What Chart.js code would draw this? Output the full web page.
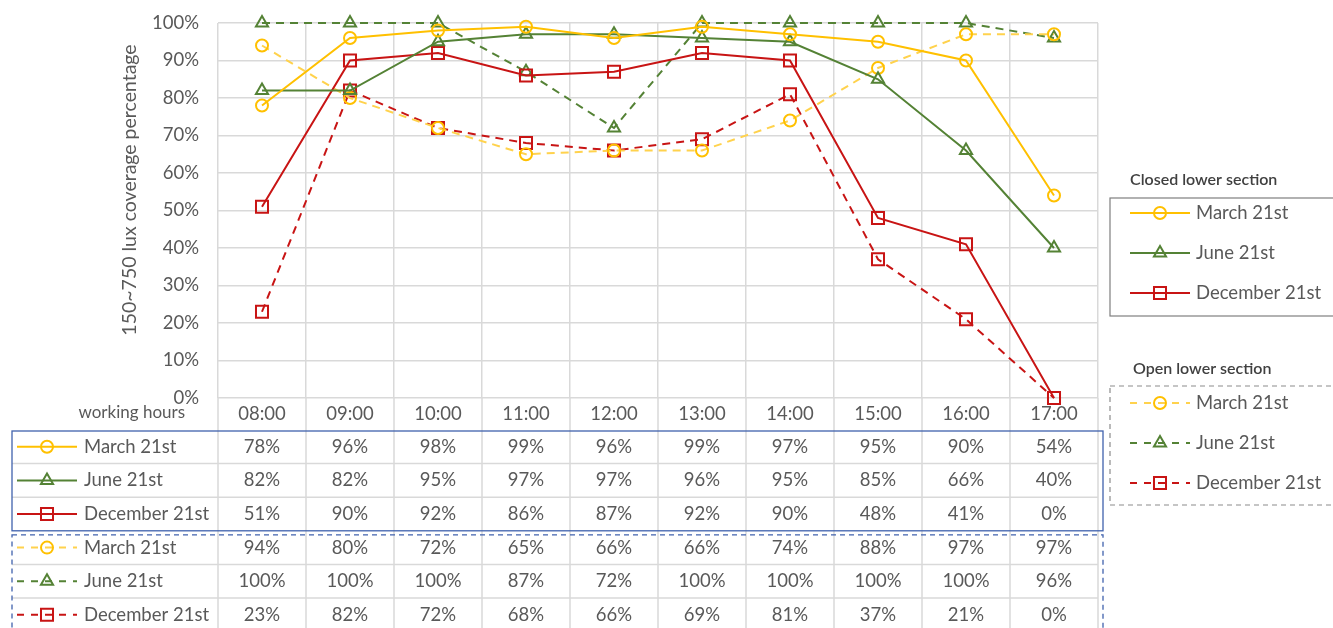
<!DOCTYPE html>
<html>
<head>
<meta charset="utf-8">
<title>150~750 lux coverage percentage</title>
<script src="https://cdn.jsdelivr.net/npm/chart.js@4.4.1/dist/chart.umd.min.js"></script>
<style>
  html, body { margin: 0; padding: 0; background: #fff; }
  #wrap { position: relative; width: 1333px; height: 628px; }
</style>
</head>
<body>
<div id="wrap"><canvas id="chart" width="1333" height="628"></canvas></div>
<script>
// ===== data =====
const HOURS = ["08:00", "09:00", "10:00", "11:00", "12:00", "13:00", "14:00", "15:00", "16:00", "17:00"];
const SERIES_NAMES = ["March 21st", "June 21st", "December 21st"];
const GROUP_TITLES = ["Closed lower section", "Open lower section"];
const AXIS_TITLE = "150~750 lux coverage percentage";
const ROW_HEADER = "working hours";

const CLOSED_MARCH = [78, 96, 98, 99, 96, 99, 97, 95, 90, 54];
const CLOSED_JUNE  = [82, 82, 95, 97, 97, 96, 95, 85, 66, 40];
const CLOSED_DEC   = [51, 90, 92, 86, 87, 92, 90, 48, 41, 0];
const OPEN_MARCH   = [94, 80, 72, 65, 66, 66, 74, 88, 97, 97];
const OPEN_JUNE    = [100, 100, 100, 87, 72, 100, 100, 100, 100, 96];
const OPEN_DEC     = [23, 82, 72, 68, 66, 69, 81, 37, 21, 0];

// ===== styles =====
const FONT = "Lato, 'Open Sans', sans-serif";
const FS = 18.5;
const TEXT = "#595959";
const GRID = "#d9d9d9";
const BLUE = "#4062ad";
const YELLOW = "#ffc000";
const YELLOW_LIGHT = "#ffd24d";
const GREEN = "#548235";
const RED = "#c81414";
const DASH = [8, 6];

function series(label, data, lineColor, pointColor, style, radius, dashed) {
  return {
    label, data,
    borderColor: lineColor,
    borderWidth: 2,
    borderDash: dashed ? DASH : [],
    pointStyle: style,
    pointRadius: radius,
    pointHoverRadius: radius,
    pointBorderColor: pointColor,
    pointBackgroundColor: "rgba(0,0,0,0)",
    pointBorderWidth: 2,
    tension: 0,
    clip: false,
    dashed,
  };
}

const datasets = [
  series(SERIES_NAMES[0], CLOSED_MARCH, YELLOW, YELLOW, "circle", 6, false),
  series(SERIES_NAMES[1], CLOSED_JUNE, GREEN, GREEN, "triangle", 7, false),
  series(SERIES_NAMES[2], CLOSED_DEC, RED, RED, "rect", 8.5, false),
  series(SERIES_NAMES[0], OPEN_MARCH, YELLOW_LIGHT, YELLOW, "circle", 6, true),
  series(SERIES_NAMES[1], OPEN_JUNE, GREEN, GREEN, "triangle", 7, true),
  series(SERIES_NAMES[2], OPEN_DEC, RED, RED, "rect", 8.5, true),
];

// ===== drawing helpers =====
function drawMarker(ctx, ds, x, y) {
  const r = ds.pointRadius;
  ctx.save();
  ctx.setLineDash([]);
  ctx.strokeStyle = ds.pointBorderColor;
  ctx.lineWidth = 2;
  ctx.beginPath();
  if (ds.pointStyle === "circle") {
    ctx.arc(x, y, r, 0, Math.PI * 2);
  } else if (ds.pointStyle === "triangle") {
    let a = 0;
    ctx.moveTo(x + Math.sin(a) * r, y - Math.cos(a) * r);
    a += Math.PI * 2 / 3;
    ctx.lineTo(x + Math.sin(a) * r, y - Math.cos(a) * r);
    a += Math.PI * 2 / 3;
    ctx.lineTo(x + Math.sin(a) * r, y - Math.cos(a) * r);
    ctx.closePath();
  } else {
    const s = r * Math.SQRT1_2;
    ctx.rect(x - s, y - s, 2 * s, 2 * s);
  }
  ctx.stroke();
  ctx.restore();
}

function drawSample(ctx, ds, x1, x2, y) {
  ctx.save();
  ctx.strokeStyle = ds.borderColor;
  ctx.lineWidth = 2;
  ctx.setLineDash(ds.dashed ? [7, 7] : []);
  ctx.beginPath();
  ctx.moveTo(x1, y);
  ctx.lineTo(x2, y);
  ctx.stroke();
  ctx.restore();
  drawMarker(ctx, ds, (x1 + x2) / 2, y);
}

// ===== y axis title (placed like the original, a bit above centre) =====
const axisTitlePlugin = {
  id: "axisTitle",
  afterDraw(chart) {
    const { ctx } = chart;
    ctx.save();
    ctx.translate(130, 190);
    ctx.rotate(-Math.PI / 2);
    ctx.fillStyle = TEXT;
    ctx.font = "19.5px " + FONT;
    ctx.textAlign = "center";
    ctx.textBaseline = "middle";
    ctx.fillText(AXIS_TITLE, 0, 0);
    ctx.restore();
  },
};

// ===== data table under the plot =====
const tablePlugin = {
  id: "dataTable",
  afterDraw(chart) {
    const { ctx, chartArea } = chart;
    const x = chart.scales.x;
    const half = (x.getPixelForValue(1) - x.getPixelForValue(0)) / 2;
    const rowTop = chartArea.bottom + 32;
    const rowH = 33.6;
    const left = 12;
    const right = chartArea.right + 5;

    ctx.save();
    // column lines down through the table
    ctx.strokeStyle = GRID;
    ctx.lineWidth = 1.5;
    ctx.beginPath();
    HOURS.forEach((h, i) => {
      const px = x.getPixelForValue(i) - half;
      ctx.moveTo(px, chartArea.bottom);
      ctx.lineTo(px, chart.height);
    });
    ctx.moveTo(chartArea.right, chartArea.bottom);
    ctx.lineTo(chartArea.right, chart.height);
    // row separators
    [1, 2, 4, 5].forEach((k) => {
      ctx.moveTo(left, rowTop + k * rowH);
      ctx.lineTo(chartArea.right, rowTop + k * rowH);
    });
    ctx.stroke();

    // header cell
    ctx.fillStyle = TEXT;
    ctx.font = "17px " + FONT;
    ctx.textAlign = "right";
    ctx.textBaseline = "middle";
    ctx.fillText(ROW_HEADER, 185, chartArea.bottom + 15);

    // rows
    chart.data.datasets.forEach((ds, r) => {
      const cy = rowTop + r * rowH + rowH / 2;
      drawSample(ctx, ds, 17, 77, cy);
      ctx.fillStyle = TEXT;
      ctx.font = FS + "px " + FONT;
      ctx.textAlign = "left";
      ctx.textBaseline = "middle";
      ctx.fillText(ds.label, 84, cy);
      ctx.textAlign = "center";
      ds.data.forEach((v, i) => ctx.fillText(v + "%", x.getPixelForValue(i), cy));
    });

    // frames
    ctx.strokeStyle = BLUE;
    ctx.lineWidth = 1.3;
    ctx.strokeRect(left, rowTop + 1, right - left, 3 * rowH - 1);
    ctx.setLineDash([5, 4]);
    ctx.strokeRect(left, rowTop + 3 * rowH + 4, right - left, 3 * rowH + 20);
    ctx.restore();
  },
};

// ===== two legends on the right =====
const legendPlugin = {
  id: "groupLegends",
  afterDraw(chart) {
    const { ctx } = chart;
    const sets = chart.data.datasets;
    const groups = [
      { title: GROUP_TITLES[0], tx: 1130, ty: 180, box: [1110, 198, 240, 118], dashed: false, items: sets.slice(0, 3), y0: 213 },
      { title: GROUP_TITLES[1], tx: 1133, ty: 369, box: [1110, 386, 240, 119], dashed: true, items: sets.slice(3, 6), y0: 403 },
    ];
    ctx.save();
    groups.forEach((g) => {
      ctx.fillStyle = "#404040";
      ctx.font = "600 16px " + FONT;
      ctx.textAlign = "left";
      ctx.textBaseline = "middle";
      ctx.fillText(g.title, g.tx, g.ty);

      ctx.strokeStyle = g.dashed ? "#8c8c8c" : "#7f7f7f";
      ctx.lineWidth = 1.2;
      ctx.setLineDash(g.dashed ? [5, 4] : []);
      ctx.strokeRect(...g.box);
      ctx.setLineDash([]);

      g.items.forEach((ds, i) => {
        const cy = g.y0 + i * 40;
        drawSample(ctx, ds, 1130, 1190, cy);
        ctx.fillStyle = TEXT;
        ctx.font = FS + "px " + FONT;
        ctx.textAlign = "left";
        ctx.textBaseline = "middle";
        ctx.fillText(ds.label, 1196, cy);
      });
    });
    ctx.restore();
  },
};

// ===== chart =====
new Chart(document.getElementById("chart").getContext("2d"), {
  type: "line",
  data: { labels: HOURS, datasets },
  options: {
    responsive: false,
    animation: false,
    layout: { padding: { left: 0, right: 235, top: 23, bottom: 198 } },
    scales: {
      x: {
        offset: true,
        grid: { offset: true, color: GRID, lineWidth: 1.5, drawTicks: false },
        border: { display: false },
        ticks: { color: TEXT, font: { family: FONT, size: FS }, padding: 5, maxRotation: 0, autoSkip: false },
        afterFit(scale) { scale.height = 32; scale.paddingLeft = 0; scale.paddingRight = 0; },
      },
      y: {
        min: 0,
        max: 100,
        grid: { color: GRID, lineWidth: 1.5, drawTicks: false },
        border: { display: false },
        ticks: {
          stepSize: 10,
          color: TEXT,
          font: { family: FONT, size: FS },
          padding: 19,
          callback: (v) => v + "%",
        },
        afterFit(scale) { scale.width = 218; scale.paddingTop = 0; scale.paddingBottom = 0; },
      },
    },
    plugins: {
      legend: { display: false },
      tooltip: { enabled: false },
    },
  },
  plugins: [axisTitlePlugin, tablePlugin, legendPlugin],
});
</script>
</body>
</html>
